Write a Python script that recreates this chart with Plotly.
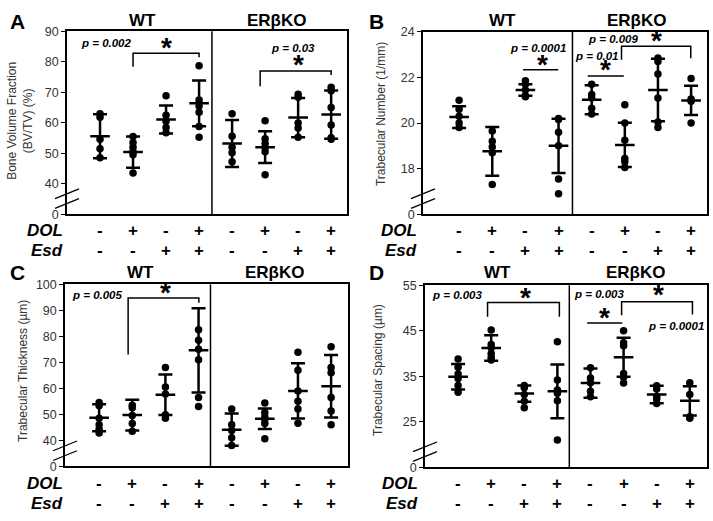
import plotly.graph_objects as go

W, H = 713, 521
FONT = "Liberation Sans, Arial, sans-serif"

groups = [1, 2, 3, 4, 5, 6, 7, 8]
dol_signs = ["-", "+", "-", "+", "-", "+", "-", "+"]
esd_signs = ["-", "-", "+", "+", "-", "-", "+", "+"]

# Panel A: Bone Volume Fraction (BV/TV) (%)
A_pts = [[63.0, 61.8, 54.6, 51.5, 48.5],
         [55.5, 53.5, 52.0, 50.5, 49.5, 43.5],
         [68.9, 62.5, 60.5, 58.5, 56.7],
         [78.7, 67.5, 65.5, 63.5, 58.8, 55.3],
         [63.0, 55.6, 52.0, 50.2, 47.2],
         [60.7, 54.8, 53.2, 51.8, 50.5, 43.0],
         [69.4, 68.4, 59.9, 58.3, 55.3],
         [71.7, 70.5, 65.0, 59.3, 55.1, 54.6]]
A_mean = [55.6, 50.4, 61.1, 66.4, 53.2, 52.0, 61.7, 62.7]
A_sd = [7.2, 5.1, 4.6, 7.5, 7.7, 5.2, 6.4, 7.9]

# Panel B: Trabecular Number (1/mm)
B_pts = [[21.0, 20.6, 20.3, 20.0, 19.8],
         [19.65, 19.2, 18.95, 18.7, 17.3],
         [21.85, 21.7, 21.45, 21.2, 21.15],
         [20.2, 20.15, 19.6, 19.0, 17.55, 16.9],
         [21.7, 21.25, 21.1, 20.65, 20.4],
         [20.8, 20.0, 19.25, 18.45, 18.3, 18.05],
         [22.85, 22.7, 22.15, 21.1, 20.05, 19.8],
         [21.95, 21.05, 20.95, 20.0]]
B_mean = [20.26, 18.76, 21.45, 19.0, 21.02, 19.04, 21.45, 20.99]
B_sd = [0.48, 1.07, 0.25, 1.19, 0.64, 0.97, 1.37, 0.64]

# Panel C: Trabecular Thickness (µm)
C_pts = [[54.5, 53.3, 48.5, 46.0, 44.3, 42.8],
         [53.5, 52.5, 49.5, 46.5, 43.5],
         [68.0, 60.5, 57.8, 49.8, 48.5],
         [82.5, 78.5, 75.0, 71.0, 56.5, 53.0],
         [52.0, 46.0, 43.8, 41.0, 38.0],
         [54.4, 50.7, 49.0, 48.0, 46.5, 40.6],
         [73.9, 67.0, 59.0, 55.0, 52.0, 46.6],
         [76.0, 68.0, 66.0, 56.5, 51.3, 46.0]]
C_mean = [48.7, 49.7, 57.5, 74.6, 44.1, 48.3, 59.0, 60.8]
C_sd = [5.2, 5.9, 7.8, 16.2, 6.2, 3.9, 10.6, 12.0]

# Panel D: Trabecular Spacing (µm)
D_pts = [[38.8, 37.0, 35.5, 34.5, 33.0, 31.5],
         [45.2, 42.0, 41.3, 40.0, 39.2, 38.6],
         [33.0, 32.5, 31.0, 29.5, 28.1],
         [42.6, 34.2, 32.0, 31.3, 29.6, 21.0],
         [36.9, 34.6, 33.6, 31.7, 30.5],
         [45.0, 42.4, 41.7, 35.6, 34.8, 33.5],
         [32.9, 32.2, 30.5, 30.0, 29.0],
         [33.6, 31.0, 26.1, 25.8]]
D_mean = [34.9, 41.2, 31.2, 31.7, 33.5, 39.2, 31.0, 29.6]
D_sd = [2.8, 2.8, 1.8, 5.9, 3.2, 4.3, 1.9, 3.2]

# tick values (bottom tick is the broken-axis "0")
A_ticks = [30, 40, 50, 60, 70, 80, 90]
A_ticktext = ["0", "40", "50", "60", "70", "80", "90"]
B_ticks = [16, 18, 20, 22, 24]
B_ticktext = ["0", "18", "20", "22", "24"]
C_ticks = [30, 40, 50, 60, 70, 80, 90, 100]
C_ticktext = ["0", "40", "50", "60", "70", "80", "90", "100"]
D_ticks = [15, 25, 35, 45, 55]
D_ticktext = ["0", "25", "35", "45", "55"]

# significance annotations: (text, x, y)
A_pvals = [("p = 0.002", 1.21, 86.3), ("p = 0.03", 6.85, 84.4)]
A_stars = [(3.0, 84.7), (7.0, 79.1)]
# brackets: (x0, x1, y_top, y_left_bottom, y_right_bottom)
A_brackets = [(2.0, 4.0, 82.8, 78.4, 81.5), (5.85, 8.0, 77.0, 72.0, 75.7)]
A_lines = []

B_pvals = [("p = 0.0001", 3.38, 23.3), ("p = 0.01", 5.15, 22.94), ("p = 0.009", 5.66, 23.67)]
B_stars = [(3.53, 22.58), (5.43, 22.34), (6.95, 23.62)]
B_brackets = [(5.9, 7.99, 23.37, 22.77, 22.84)]
B_lines = [(2.93, 3.99, 22.34), (4.88, 5.97, 22.06)]

C_pvals = [("p = 0.005", 0.94, 95.9)]
C_stars = [(3.0, 96.9)]
C_brackets = [(1.875, 4.01, 94.7, 73.0, 92.9)]
C_lines = []

D_pvals = [("p = 0.003", 0.97, 52.9), ("p = 0.003", 5.27, 53.1), ("p = 0.0001", 7.58, 46.0)]
D_stars = [(3.03, 52.4), (5.43, 47.9), (7.05, 52.9)]
D_brackets = [(1.89, 4.06, 51.2, 48.1, 48.1), (5.94, 8.08, 51.4, 48.4, 48.6)]
D_lines = [(4.9, 5.96, 46.7)]


def px(x):
    return x / W


def py(y):
    return 1 - y / H


panels = [
    dict(letter="A", pts=A_pts, mean=A_mean, sd=A_sd, box=(67, 347, 25, 213), xr=(0.0, 8.48), div=4.39,
         yr=(30, 90), tv=A_ticks, tt=A_ticktext, title="Bone Volume Fraction<br>(BV/TV) (%)", tpos=(20, 117),
         lpos=(17.5, 15), wt=(142, 14), ko=(277, 14), rows=(230, 250), rowx=65,
         pv=A_pvals, st=A_stars, br=A_brackets, ln=A_lines),
    dict(letter="B", pts=B_pts, mean=B_mean, sd=B_sd, box=(423, 707, 25.5, 213), xr=(-0.09, 8.48), div=4.42,
         yr=(16, 24), tv=B_ticks, tt=B_ticktext, title="Trabecular Number (1/mm)", tpos=(381, 110),
         lpos=(376, 15), wt=(503, 14), ko=(637, 14), rows=(230, 250), rowx=419,
         pv=B_pvals, st=B_stars, br=B_brackets, ln=B_lines),
    dict(letter="C", pts=C_pts, mean=C_mean, sd=C_sd, box=(65, 348, 285, 472), xr=(-0.03, 8.51), div=4.36,
         yr=(30, 100), tv=C_ticks, tt=C_ticktext, title="Trabecular Thickness (µm)", tpos=(23, 374),
         lpos=(17.5, 273), wt=(140, 272.5), ko=(275, 272.5), rows=(490, 510), rowx=65,
         pv=C_pvals, st=C_stars, br=C_brackets, ln=C_lines),
    dict(letter="D", pts=D_pts, mean=D_mean, sd=D_sd, box=(425, 707, 286, 473), xr=(0.0, 8.52), div=4.36,
         yr=(15, 55), tv=D_ticks, tt=D_ticktext, title="Trabecular Spacing (µm)", tpos=(378, 373),
         lpos=(376, 273), wt=(497.5, 272.5), ko=(636, 272.5), rows=(490, 510), rowx=420,
         pv=D_pvals, st=D_stars, br=D_brackets, ln=D_lines),
]

fig = go.Figure()
annotations = []
shapes = []
layout = {}


def ann(**kw):
    base = dict(showarrow=False, xanchor="center", yanchor="middle")
    base.update(kw)
    annotations.append(base)


for i, p in enumerate(panels, start=1):
    sfx = "" if i == 1 else str(i)
    xa, ya = "x" + sfx, "y" + sfx
    L, R, T, B = p["box"]
    layout["xaxis" + sfx] = dict(domain=[px(L), px(R)], range=list(p["xr"]), anchor=ya,
                                 showticklabels=False, ticks="", showgrid=False, zeroline=False,
                                 showline=True, mirror=True, linecolor="black", linewidth=1.5)
    layout["yaxis" + sfx] = dict(domain=[py(B), py(T)], range=list(p["yr"]), anchor=xa,
                                 tickvals=p["tv"], ticktext=p["tt"], ticks="outside", ticklen=4,
                                 tickwidth=1.2, tickcolor="black",
                                 tickfont=dict(family=FONT, size=12.5, color="#333"),
                                 showgrid=False, zeroline=False, showline=True, mirror=True,
                                 linecolor="black", linewidth=1.5)
    # points
    xs, ys = [], []
    for g, vals in zip(groups, p["pts"]):
        xs += [g] * len(vals)
        ys += vals
    fig.add_trace(go.Scatter(x=xs, y=ys, mode="markers", xaxis=xa, yaxis=ya, showlegend=False,
                             marker=dict(size=7.5, color="black")))
    # mean +/- SD
    fig.add_trace(go.Scatter(x=groups, y=p["mean"], mode="markers", xaxis=xa, yaxis=ya, showlegend=False,
                             marker=dict(symbol="line-ew", size=14, line=dict(width=2.5, color="black")),
                             error_y=dict(type="data", array=p["sd"], visible=True, color="black",
                                          thickness=2.5, width=7)))
    # divider
    shapes.append(dict(type="line", xref=xa, yref=ya + " domain", x0=p["div"], x1=p["div"], y0=0, y1=1,
                       line=dict(color="black", width=1.5)))
    # axis break marks
    for off in (21, 11):
        shapes.append(dict(type="line", xref="paper", yref="paper",
                           x0=px(L - 12), x1=px(L + 12), y0=py(B - off + 5), y1=py(B - off - 5),
                           line=dict(color="black", width=1.3)))
    # brackets
    for (x0, x1, yt, yl, yr_) in p["br"]:
        shapes.append(dict(type="path", xref=xa, yref=ya,
                           path=f"M {x0},{yl} L {x0},{yt} L {x1},{yt} L {x1},{yr_}",
                           line=dict(color="black", width=1.5)))
    for (x0, x1, yy) in p["ln"]:
        shapes.append(dict(type="line", xref=xa, yref=ya, x0=x0, x1=x1, y0=yy, y1=yy,
                           line=dict(color="black", width=1.5)))
    for (txt, x, y) in p["pv"]:
        ann(text=f"<b><i>{txt}</i></b>", x=x, y=y, xref=xa, yref=ya,
            font=dict(family=FONT, size=11.5, color="black"))
    for (x, y) in p["st"]:
        ann(text="<b>*</b>", x=x, y=y, xref=xa, yref=ya, yshift=0,
            font=dict(family=FONT, size=28, color="black"))
    # sign rows
    for g, d, e in zip(groups, dol_signs, esd_signs):
        ann(text=f"<b>{d}</b>", x=g, y=py(p["rows"][0]), xref=xa, yref="paper",
            font=dict(family=FONT, size=17, color="black"))
        ann(text=f"<b>{e}</b>", x=g, y=py(p["rows"][1]), xref=xa, yref="paper",
            font=dict(family=FONT, size=17, color="black"))
    ann(text="<b><i>DOL</i></b>", x=px(p["rowx"]), y=py(p["rows"][0]), xref="paper",
        yref="paper", xanchor="right", font=dict(family=FONT, size=17, color="black"))
    ann(text="<b><i>Esd</i></b>", x=px(p["rowx"]), y=py(p["rows"][1]), xref="paper",
        yref="paper", xanchor="right", font=dict(family=FONT, size=17, color="black"))
    # titles
    ann(text=f"<b>{p['letter']}</b>", x=px(p["lpos"][0]), y=py(p["lpos"][1]),
        xref="paper", yref="paper", font=dict(family=FONT, size=21, color="black"))
    ann(text="<b>WT</b>", x=px(p["wt"][0]), y=py(p["wt"][1]), xref="paper", yref="paper",
        font=dict(family=FONT, size=17, color="black"))
    ann(text="<b>ERβKO</b>", x=px(p["ko"][0]), y=py(p["ko"][1]), xref="paper",
        yref="paper", font=dict(family=FONT, size=17, color="black"))
    ann(text=p["title"], x=px(p["tpos"][0]), y=py(p["tpos"][1]), xref="paper",
        yref="paper", textangle=-90, font=dict(family=FONT, size=12, color="#333"))

fig.update_layout(width=W, height=H, margin=dict(l=0, r=0, t=0, b=0), paper_bgcolor="white",
                  plot_bgcolor="white", showlegend=False, annotations=annotations, shapes=shapes, **layout)
fig.write_html("out.html", config={"displayModeBar": False},
               post_script="document.body.style.margin='0';document.body.style.padding='0';"
                           "document.documentElement.style.overflow='hidden';")
